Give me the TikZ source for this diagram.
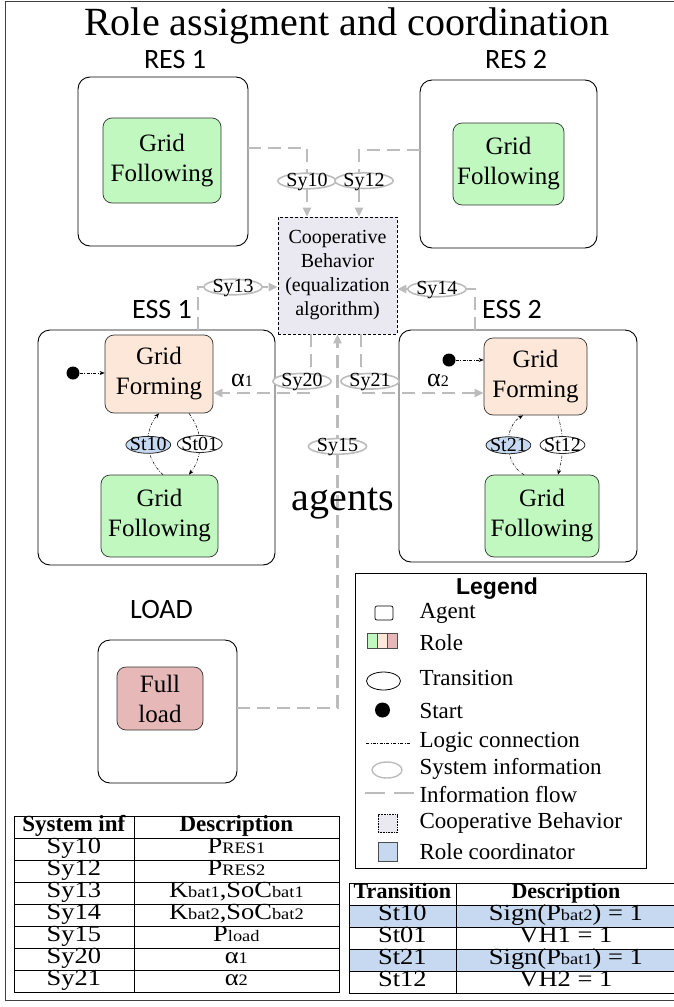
\documentclass[tikz,border=0pt]{standalone}
\usepackage{fontspec}
\setmainfont{Liberation Serif}
\newfontfamily\agentfont{Carlito}
\newfontfamily\legfont{Liberation Sans}
\newfontfamily\tabfont[FakeStretch=1.15]{Liberation Serif}
\usetikzlibrary{shapes.geometric,arrows.meta,positioning,matrix}

\definecolor{follow}{RGB}{192,248,192}
\definecolor{forming}{RGB}{252,231,216}
\definecolor{fullload}{RGB}{230,185,184}
\definecolor{coopfill}{RGB}{234,232,240}
\definecolor{coord}{RGB}{198,217,240}
\definecolor{flowgray}{RGB}{188,188,188}

\newcommand{\fsz}[2]{\fontsize{#1}{#2}\selectfont}
\newcommand{\lowtx}[1]{{\fontsize{16}{16}\selectfont #1}}

\tikzset{
	agent/.style={draw, line width=0.9pt, rounded corners=12pt},
	role/.style={draw=black!80, line width=0.7pt, rounded corners=9pt, align=center, font=\fsz{25}{30}},
	agentname/.style={font=\agentfont\fsz{28}{30}, anchor=base},
	sysinf/.style={ellipse, solid, draw=flowgray, line width=1.6pt, fill=white, inner sep=0pt, text height=11pt, text depth=0pt, font=\fsz{20}{20}},
	trans/.style={ellipse, solid, draw=black!85, line width=0.8pt, fill=white, inner xsep=-2.5pt, inner ysep=0pt, text height=12pt, text depth=0pt, font=\fsz{20}{20}},
	flow/.style={draw=flowgray, line width=2.4pt, dash pattern=on 13pt off 7pt, -{Triangle[length=9pt,width=8pt]}},
	logic/.style={draw=black, line width=0.5pt, dash pattern=on 3pt off 1.5pt on 0.8pt off 1.5pt, -{Stealth[length=5pt,width=4pt]}},
	startdot/.style={circle, solid, fill=black, inner sep=0pt, minimum size=13pt},
	legtxt/.style={anchor=west, font=\fsz{23}{23}},
}

\begin{document}
\begin{tikzpicture}[x=1pt,y=-1pt]
	\useasboundingbox (0,0) rectangle (673,1007);
	\draw[black!75, line width=0.9pt] (690,1) -- (5,1) -- (5,1000) -- (690,1000);

	\node[anchor=base, font=\fsz{40}{40}] (title) at (347,35) {Role assigment and coordination};

	% agents
	\node[agent, minimum width=170pt, minimum height=169pt] (res1) at (163,161.5) {};
	\node[agent, minimum width=177pt, minimum height=168pt] (res2) at (508.5,164) {};
	\node[agent, minimum width=237pt, minimum height=235pt] (ess1) at (156.5,447.5) {};
	\node[agent, minimum width=238pt, minimum height=232pt] (ess2) at (518,446) {};
	\node[agent, minimum width=139pt, minimum height=143pt] (load) at (167.5,711.5) {};

	\node[agentname] (res1name) at (175,68) {RES 1};
	\node[agentname] (res2name) at (516,68) {RES 2};
	\node[agentname] (ess1name) at (162,318) {ESS 1};
	\node[agentname] (ess2name) at (512,318) {ESS 2};
	\node[agentname] (loadname) at (161.5,618) {LOAD};

	% roles
	\node[role, fill=follow, minimum width=118pt, minimum height=85pt] (r1) at (162,160.5) {Grid\\Following};
	\node[role, fill=follow, minimum width=111pt, minimum height=82pt] (r2) at (508.5,164) {Grid\\Following};
	\node[role, fill=forming, minimum width=108pt, minimum height=78pt] (e1f) at (159,374) {Grid\\Forming};
	\node[role, fill=follow, minimum width=117pt, minimum height=82pt] (e1g) at (159.5,516) {Grid\\Following};
	\node[role, fill=forming, minimum width=103pt, minimum height=77pt] (e2f) at (535.5,376.5) {Grid\\Forming};
	\node[role, fill=follow, minimum width=114pt, minimum height=82pt] (e2g) at (542,516) {Grid\\Following};
	\node[role, fill=fullload, minimum width=86pt, minimum height=63pt] (ld) at (160,698.5) {Full\\load};

	\node[draw, densely dashed, line width=0.6pt, fill=coopfill, minimum width=119pt, minimum height=117pt, align=center, font=\fsz{20}{24}] (coop) at (337.5,275.5) {Cooperative\\Behavior\\(equalization\\algorithm)};

	% information flow
	\draw[flow] ([yshift=13.5pt]res1.east) -| node[sysinf, pos=0.74] (sy10) {Sy10} ([xshift=-30.5pt]coop.north);
	\draw[flow] ([yshift=14pt]res2.west) -| node[sysinf, pos=0.73, xshift=5pt] (sy12) {Sy12} ([xshift=21.5pt]coop.north);
	\draw[flow] ([xshift=41.5pt]ess1.north) |- node[sysinf, pos=0.72] (sy13) {Sy13} ([yshift=-11.5pt]coop.west);
	\draw[flow] ([xshift=-43pt]ess2.north) |- node[sysinf, pos=0.745] (sy14) {Sy14} ([yshift=-13.5pt]coop.east);
	\draw[flow] ([xshift=-26.5pt]coop.south) |- node[sysinf, pos=0.4, xshift=-9pt] (sy20) {Sy20} ([yshift=-19pt]e1f.east);
	\draw[flow] ([xshift=23.5pt]coop.south) |- node[sysinf, pos=0.4, xshift=9pt] (sy21) {Sy21} ([yshift=-16.5pt]e2f.west);
	\draw[flow] ([yshift=3.5pt]load.east) -| node[sysinf, pos=0.85] (sy15) {Sy15} (coop.south);

	\node[font=\fsz{26}{26}] (a1) at (242,380) {α\lowtx{1}};
	\node[font=\fsz{26}{26}] (a2) at (438,380) {α\lowtx{2}};
	\node[anchor=base, font=\fsz{40}{40}] (agents) at (343,510) {agents};

	% logic
	\node[startdot] (s1) at (73,373) {};
	\node[startdot] (s2) at (449,360) {};
	\draw[logic] (s1) -- (s1 -| e1f.west);
	\draw[logic] (s2) -- (s2 -| e2f.west);
	\draw[logic] ([xshift=3.5pt]e1g.north) to[bend left=45] node[trans, fill=coord] (st10) {St10} (e1f.south);
	\draw[logic] ([xshift=30pt]e1f.south) to[bend left=37] node[trans] (st01) {St01} ([xshift=29.5pt]e1g.north);
	\draw[logic] ([xshift=-18pt]e2g.north) to[bend left=60] node[trans, fill=coord] (st21) {St21} ([xshift=-12.5pt]e2f.south);
	\draw[logic] ([xshift=22.5pt]e2f.south) to[bend left=15] node[trans] (st12) {St12} ([xshift=16pt]e2g.north);

	% legend
	\node[draw, line width=0.8pt, minimum width=291pt, minimum height=295pt] (legend) at (500.5,720.5) {};
	\node[font=\legfont\bfseries\fsz{23}{23}] (legtitle) at (497,589) {Legend};
	\node[draw, rounded corners=2pt, line width=0.7pt, minimum width=18pt, minimum height=14pt] (lgagent) at (384,613) {};
	\node[draw=black!70, fill=follow, minimum width=10pt, minimum height=15pt, inner sep=0pt] (lgr1) at (372,641) {};
	\node[draw=black!70, fill=forming, minimum width=10pt, minimum height=15pt, inner sep=0pt] (lgr2) at (382,641) {};
	\node[draw=black!70, fill=fullload, minimum width=10pt, minimum height=15pt, inner sep=0pt] (lgr3) at (392,641) {};
	\node[ellipse, draw, line width=0.8pt, minimum width=34pt, minimum height=18pt] (lgtrans) at (383.5,681) {};
	\node[startdot, minimum size=15pt] (lgstart) at (382.5,710) {};
	\coordinate (lgl1) at (366,743);
	\coordinate (lgl2) at (410,743);
	\draw[logic, -] (lgl1) -- (lgl2);
	\node[ellipse, draw=flowgray, line width=1.4pt, minimum width=30pt, minimum height=16pt] (lgsys) at (387,770) {};
	\coordinate (lgf1) at (365,793);
	\coordinate (lgf2) at (414,793);
	\draw[flow, -, dash pattern=on 20pt off 9pt] (lgf1) -- (lgf2);
	\node[draw, densely dotted, line width=0.6pt, fill=coopfill, minimum width=19pt, minimum height=18pt] (lgcoop) at (387.5,823.5) {};
	\node[draw=black!70, fill=coord, minimum width=19pt, minimum height=19pt] (lgcoord) at (387.5,851.5) {};
	\foreach \n/\y/\t in {agent/613/Agent, role/643/Role, trans/678/Transition, start/711/Start, logic/742/Logic connection, sys/769/System information, flow/795/Information flow, coop/823/Cooperative Behavior, coord/852/Role coordinator}
		\node[legtxt] (lt\n) at (416,\y) {\t};

	% tables
	\matrix (systab) [matrix of nodes, anchor=north west, row sep=-0.7pt, column sep=-0.7pt,
		nodes={draw, line width=0.7pt, anchor=center, minimum height=22pt, inner sep=0pt, text height=15pt, text depth=5pt, font=\tabfont\fsz{23}{23}},
		column 1/.style={nodes={minimum width=120pt}},
		column 2/.style={nodes={minimum width=205pt}},
		row 1/.style={nodes={font=\bfseries\fsz{23}{23}}}] at (10,812) {
		System inf & Description \\
		Sy10 & P\lowtx{RES1} \\
		Sy12 & P\lowtx{RES2} \\
		Sy13 & K\lowtx{bat1},SoC\lowtx{bat1} \\
		Sy14 & K\lowtx{bat2},SoC\lowtx{bat2} \\
		Sy15 & P\lowtx{load} \\
		Sy20 & α\lowtx{1} \\
		Sy21 & α\lowtx{2} \\
	};

	\matrix (trtab) [matrix of nodes, anchor=north west, row sep=-0.7pt, column sep=-0.7pt,
		nodes={draw, line width=0.7pt, anchor=center, minimum height=22pt, inner sep=0pt, text height=15pt, text depth=5pt, font=\tabfont\fsz{23}{23}},
		column 1/.style={nodes={minimum width=107pt}},
		column 2/.style={nodes={minimum width=220pt}},
		row 1/.style={nodes={font=\bfseries\fsz{22}{22}}},
		row 2/.style={nodes={fill=coord}},
		row 4/.style={nodes={fill=coord}}] at (345,879) {
		Transition & Description \\
		St10 & Sign(P\lowtx{bat2}) = 1 \\
		St01 & VH1 = 1 \\
		St21 & Sign(P\lowtx{bat1}) = 1 \\
		St12 & VH2 = 1 \\
	};
\end{tikzpicture}
\end{document}
